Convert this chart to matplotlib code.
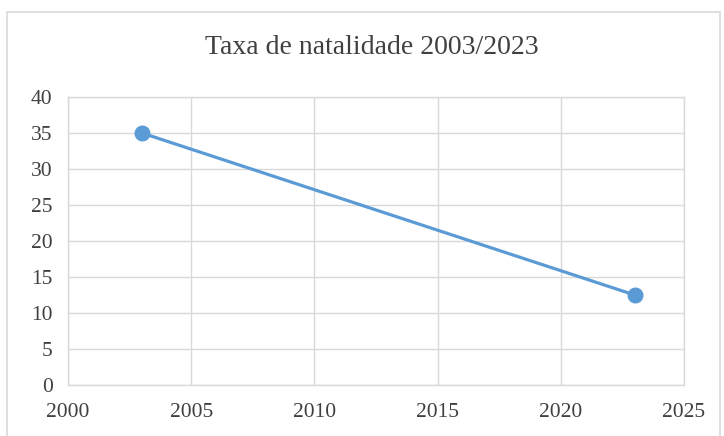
# Birth rate 2003/2023 - Excel-style scatter with line

import matplotlib.pyplot as plt
from matplotlib.patches import Rectangle

# Data
years = [2003, 2023]
birth_rate = [35, 12.5]

x_ticks = [2000, 2005, 2010, 2015, 2020, 2025]
y_ticks = [0, 5, 10, 15, 20, 25, 30, 35, 40]

plt.rcParams['font.family'] = ['Liberation Serif', 'DejaVu Serif']

fig = plt.figure(figsize=(7.24, 4.36), dpi=100)

# Chart area border
fig.patches.append(Rectangle((7 / 724, -0.05), 713 / 724, 1.05 - 12 / 436,
                             transform=fig.transFigure, fill=False,
                             edgecolor='#D9D9D9', linewidth=1.2))

ax = fig.add_axes([68 / 724, 51 / 436, 616 / 724, 288 / 436])

ax.plot(years, birth_rate, color='#5B9BD5', linewidth=2.3,
        marker='o', markersize=10.5, zorder=3)

ax.set_xlim(2000, 2025)
ax.set_ylim(0, 40)
ax.set_xticks(x_ticks)
ax.set_yticks(y_ticks)
ax.grid(True, color='#D9D9D9', linewidth=1.0)
ax.set_axisbelow(True)
for s in ax.spines.values():
    s.set_color('#D9D9D9')
    s.set_linewidth(1.0)
ax.tick_params(length=0, labelsize=15.5, colors='#404040')
ax.tick_params(axis='y', pad=11)
ax.tick_params(axis='x', pad=13)

fig.text(0.514, 1 - 47 / 436, 'Taxa de natalidade 2003/2023',
         ha='center', va='center', fontsize=20, color='#404040')

fig.savefig('out.png', dpi=100)
